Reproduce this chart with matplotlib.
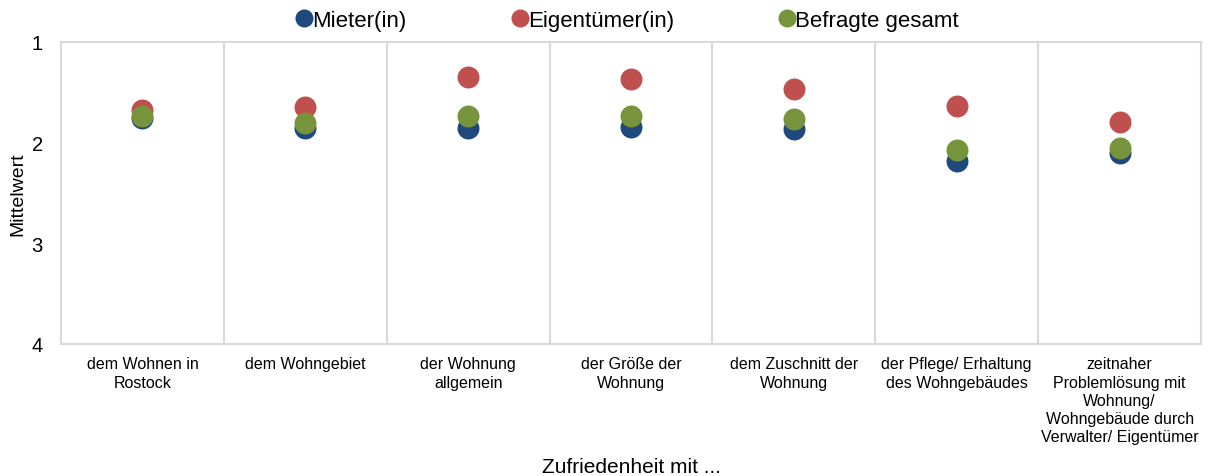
import numpy as np
import matplotlib.pyplot as plt
from matplotlib.lines import Line2D

plt.rcParams['font.family'] = ['Liberation Sans', 'DejaVu Sans']

categories = [
    'dem Wohnen in\nRostock',
    'dem Wohngebiet',
    'der Wohnung\nallgemein',
    'der Größe der\nWohnung',
    'dem Zuschnitt der\nWohnung',
    'der Pflege/ Erhaltung\ndes Wohngebäudes',
    'zeitnaher\nProblemlösung mit\nWohnung/\nWohngebäude durch\nVerwalter/ Eigentümer',
]
mieter = [1.75, 1.85, 1.85, 1.84, 1.86, 2.18, 2.10]
eigentuemer = [1.68, 1.65, 1.35, 1.37, 1.47, 1.64, 1.79]
gesamt = [1.74, 1.80, 1.74, 1.74, 1.76, 2.07, 2.05]

series = [
    ('Mieter(in)', mieter, '#1f497d'),
    ('Eigentümer(in)', eigentuemer, '#c0504d'),
    ('Befragte gesamt', gesamt, '#77933c'),
]

fig = plt.figure(figsize=(12.08, 4.77), dpi=100)
ax = fig.add_axes([61 / 1208, 1 - 345 / 477, (1201 - 61) / 1208, (345 - 43) / 477])

x = np.arange(len(categories))
for name, vals, color in series:
    ax.scatter(x, vals, s=250, color=color, zorder=3, linewidths=0)

ax.set_xlim(-0.5, len(categories) - 0.5)
ax.set_ylim(4, 1)
ax.set_yticks([1, 2, 3, 4])
ax.set_xticks(x)
ax.set_xticklabels(categories, fontsize=11.5, linespacing=1.27)
ax.tick_params(axis='both', length=0)
ax.tick_params(axis='y', labelsize=14.5, pad=13)
ax.tick_params(axis='x', pad=9)

for b in np.arange(0.5, len(categories) - 0.5, 1):
    ax.axvline(b, color='#d9d9d9', lw=1.5, zorder=1)
for sp in ax.spines.values():
    sp.set_color('#d9d9d9')
    sp.set_linewidth(1.5)

ax.set_ylabel('Mittelwert', fontsize=14)
ax.yaxis.set_label_coords(-0.03, 0.5)
ax.set_xlabel('Zufriedenheit mit ...', fontsize=15)
ax.xaxis.set_label_coords(0.5, -0.375)

handles = [Line2D([], [], ls='', marker='o', markersize=13, color=c, markeredgewidth=0)
           for _, _, c in series]
fig.legend(handles, [s[0] for s in series], loc='center', bbox_to_anchor=(0.52, 0.955),
           ncol=3, frameon=False, fontsize=16, handletextpad=0.05, columnspacing=4.8,
           handlelength=0.6, borderpad=0.1)

fig.savefig('out.png', dpi=100)
